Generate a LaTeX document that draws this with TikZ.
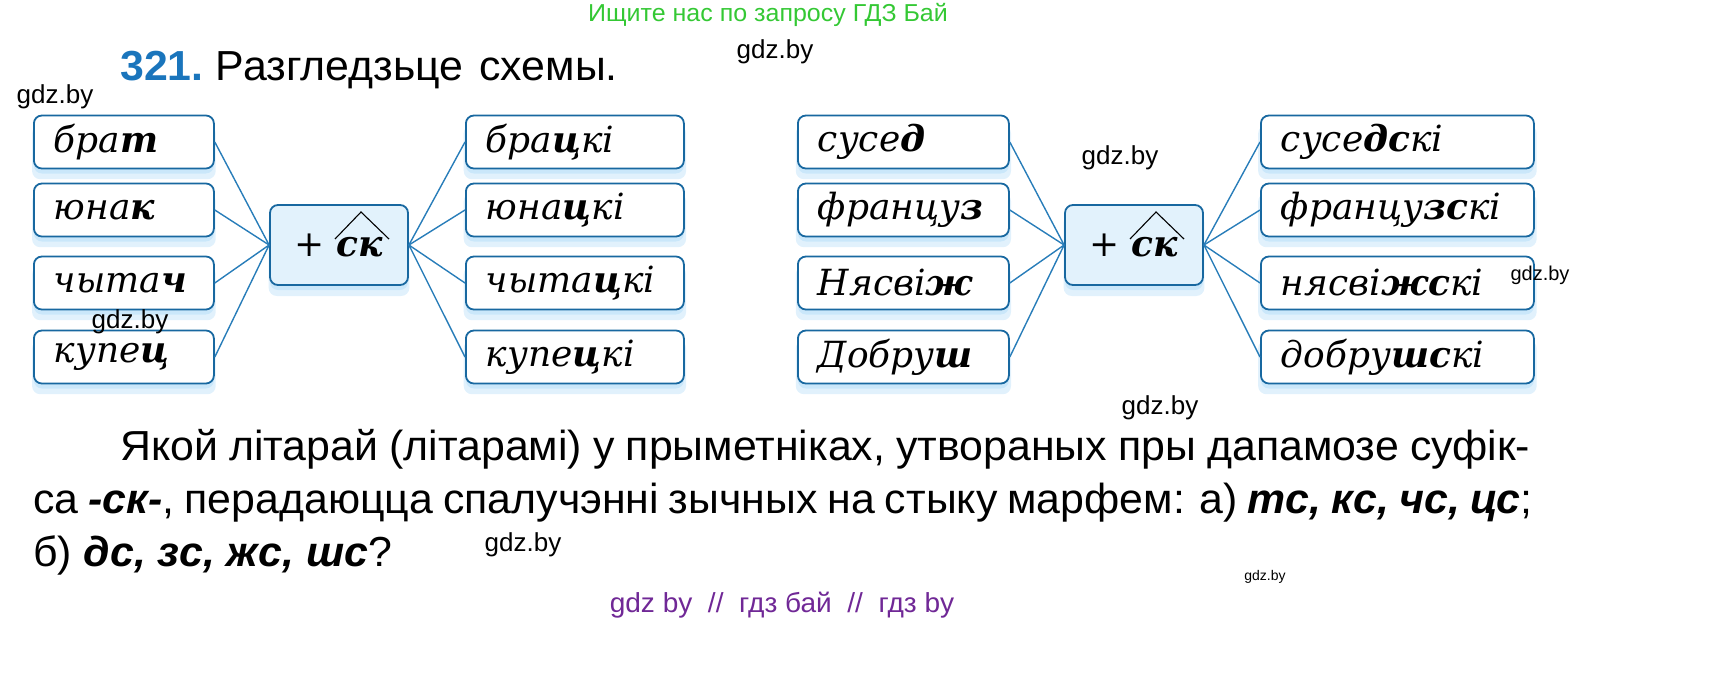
\documentclass[tikz,border=0pt]{standalone}
\usepackage{fontspec}
\setmainfont{DejaVu Serif}
\newfontfamily\bodyFont[FakeStretch=1.02]{Liberation Sans}
\newfontfamily\markFont{Liberation Sans}
\usetikzlibrary{positioning,shadows}
\tikzstyle{scheme} = [x = 1pt, y = -1pt]
\definecolor{boxColor}{RGB}{24,104,160}
\definecolor{linkColor}{RGB}{40,125,185}
\definecolor{glowColor}{RGB}{200,230,250}
\definecolor{hubFill}{RGB}{226,242,252}
\definecolor{numberColor}{RGB}{26,117,188}
\definecolor{searchColor}{RGB}{52,200,52}
\definecolor{footerColor}{RGB}{112,40,150}
\tikzstyle{wordStyle} = [draw=boxColor, fill=white, line width=1.8pt, rounded corners=8pt, minimum height=53pt, inner xsep=20pt, inner ysep=0pt, anchor=west, align=left, font=\fontsize{36}{40}\selectfont\itshape, general shadow={shadow xshift=0pt, shadow yshift=-10pt, shadow scale=1.02, fill=glowColor, opacity=.55}, drop shadow={shadow xshift=0pt, shadow yshift=-5pt, fill=glowColor, opacity=.9}]
\tikzstyle{hubStyle} = [wordStyle, fill=hubFill, anchor=center, align=center, minimum width=138pt, minimum height=80pt, inner xsep=0pt, font=\fontsize{36}{40}\selectfont]
\tikzstyle{link} = [color=linkColor, line width=1.4pt]
\tikzstyle{caret} = [color=black, line width=1.1pt]
\tikzstyle{markText} = [font=\markFont\fontsize{26}{28}\selectfont, inner sep=0pt]
\tikzstyle{bodyText} = [font=\bodyFont\fontsize{42}{50}\selectfont, inner sep=0pt, anchor=base west]
\newcommand{\hl}[1]{\textbf{#1}}
\newcommand{\wordBox}[5]{\node [wordStyle, text width=#4] (#1) at (#2, #3) {#5};}
\newcommand{\hubBox}[3]{
  \node [hubStyle] (#1) at (#2, #3) {+\hspace{12pt}\textbf{\itshape ск}};
  \draw [caret] ([shift={(-4,-6)}]#1.center) -- ([shift={(22,-33)}]#1.center) -- ([shift={(50,-6)}]#1.center);
}
\begin{document}
\begin{tikzpicture}[scheme]
\useasboundingbox (0,0) rectangle (1712,680);
% heading
\node [font=\bodyFont\fontsize{24.5}{28}\selectfont, text=searchColor, inner sep=0pt] (search) at (768,15) {Ищите нас по запросу ГДЗ Бай};
\node [bodyText, text=numberColor, font=\bodyFont\fontsize{42}{50}\selectfont\bfseries] (number) at (120,80) {321.};
\node [bodyText] (title) at ([xshift=12pt]number.base east) {Разгледзьце\hspace{16pt}схемы.};
% first scheme
\wordBox{brat}{33}{142}{140pt}{бра\hl{т}}
\wordBox{junak}{33}{210}{140pt}{юна\hl{к}}
\wordBox{chytach}{33}{283}{140pt}{чыта\hl{ч}}
\wordBox{kupec}{33}{357}{140pt}{купе\hl{ц}}
\hubBox{hubA}{339}{245}
\wordBox{bracki}{465}{142}{178pt}{бра\hl{ц}кі}
\wordBox{junacki}{465}{210}{178pt}{юна\hl{ц}кі}
\wordBox{chytacki}{465}{283}{178pt}{чыта\hl{ц}кі}
\wordBox{kupecki}{465}{357}{178pt}{купе\hl{ц}кі}
\foreach \word in {brat,junak,chytach,kupec} \draw [link] (\word.east) -- (hubA.west);
\foreach \word in {bracki,junacki,chytacki,kupecki} \draw [link] (hubA.east) -- (\word.west);
% second scheme
\wordBox{sused}{797}{142}{171pt}{сусе\hl{д}}
\wordBox{francuz}{797}{210}{171pt}{францу\hl{з}}
\wordBox{njasvizh}{797}{283}{171pt}{Нясві\hl{ж}}
\wordBox{dobrush}{797}{357}{171pt}{Добру\hl{ш}}
\hubBox{hubB}{1134}{245}
\wordBox{susedski}{1260}{142}{233pt}{сусе\hl{дс}кі}
\wordBox{francuzski}{1260}{210}{233pt}{францу\hl{зс}кі}
\wordBox{njasvizhski}{1260}{283}{233pt}{нясві\hl{жс}кі}
\wordBox{dobrushski}{1260}{357}{233pt}{добру\hl{шс}кі}
\foreach \word in {sused,francuz,njasvizh,dobrush} \draw [link] (\word.east) -- (hubB.west);
\foreach \word in {susedski,francuzski,njasvizhski,dobrushski} \draw [link] (hubB.east) -- (\word.west);
% question
\node [bodyText] (lineA) at (120,460) {\makebox[1410pt][s]{Якой літарай (літарамі) у прыметніках, утвораных пры дапамозе суфік-}};
\node [bodyText] (lineB) at (33,513) {\makebox[1499pt][s]{са \textbf{\itshape -ск-}, перадаюцца спалучэнні зычных на стыку марфем: а) \textbf{\itshape тс, кс, чс, цс};}};
\node [bodyText] (lineC) at (33,566) {б) \textbf{\itshape дс, зс, жс, шс}?};
% watermarks
\node [markText] (markA) at (775,52) {gdz.by};
\node [markText] (markB) at (55,97) {gdz.by};
\node [markText] (markC) at (1120,158) {gdz.by};
\node [markText, font=\markFont\fontsize{20}{22}\selectfont] (markD) at (1540,275) {gdz.by};
\node [markText] (markE) at (130,322) {gdz.by};
\node [markText] (markF) at (1160,408) {gdz.by};
\node [markText] (markG) at (523,545) {gdz.by};
\node [markText, font=\markFont\fontsize{14}{16}\selectfont] (markH) at (1265,577) {gdz.by};
\node [font=\bodyFont\fontsize{27.5}{30}\selectfont, text=footerColor, inner sep=0pt] (footer) at (782,605) {gdz by \ //\ \ гдз бай \ //\ \ гдз by};
\end{tikzpicture}
\end{document}
